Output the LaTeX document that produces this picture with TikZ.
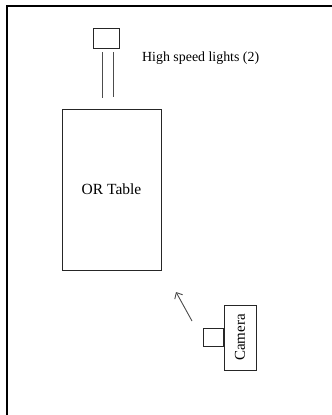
\documentclass[tikz,border=0pt]{standalone}
\usepackage{fontspec}
\setmainfont{Liberation Serif}
\usetikzlibrary{arrows.meta, positioning}

\begin{document}
\begin{tikzpicture}[x=1pt,y=-1pt,
    box/.style={draw=black!85,line width=0.9pt,inner sep=0pt},
    pole/.style={draw=black!70,line width=0.9pt}]
            \useasboundingbox (0,0) rectangle (332,415);
            \draw[line width=2pt] (7,415) --(7,6) --(332,6); %frame
            \node[box,minimum width=26pt,minimum height=20pt] (light) at (106,38) {}; %light
            \node[anchor=west,inner sep=0pt,font=\fontsize{13.9}{16}\selectfont] (lightlabel) at (142,58) {High speed lights (2)};
            \node[box,minimum width=99pt,minimum height=161pt,font=\fontsize{15.5}{18}\selectfont] (table) at (111.5,189.5) {OR Table}; %table
            \coordinate (poleAtop) at (102,52);
            \coordinate (poleAbot) at (102,98);
            \coordinate (poleBtop) at (113,52);
            \coordinate (poleBbot) at (113,97);
            \draw[pole] (poleAtop) --(poleAbot);
            \draw[pole] (poleBtop) --(poleBbot);
            \node[box,minimum width=32pt,minimum height=65pt] (camera) at (240,337.5)
                {\rotatebox{90}{\fontsize{15}{18}\selectfont Camera}}; %camera
            \node[box,minimum width=20pt,minimum height=18pt,left=0pt of camera] (lens) {};
            \coordinate (viewtail) at (192,321);
            \coordinate (viewtip) at (176,292);
            \draw[-{Straight Barb[length=5pt,width=9pt]},draw=black!70,line width=0.9pt] (viewtail) --(viewtip); %view
\end{tikzpicture}
\end{document}
